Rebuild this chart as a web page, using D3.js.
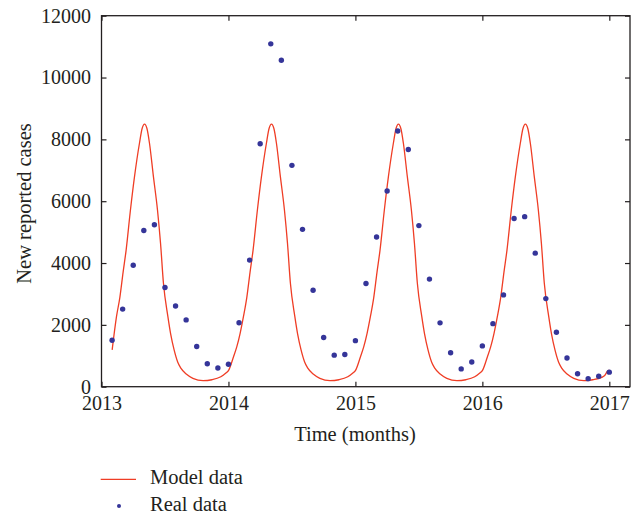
<!DOCTYPE html>
<html>
<head>
<meta charset="utf-8">
<script src="https://cdn.jsdelivr.net/npm/d3@7"></script>
<style>
  body { margin: 0; background: #fff; }
  text { font-family: "Liberation Serif", "DejaVu Serif", serif; fill: #231f20; }
</style>
</head>
<body>
<div id="chart"></div>
<script>
// monthly reported cases, Feb 2013 .. Jan 2017
const realMonth = [1, 2, 3, 4, 5, 6, 7, 8, 9, 10, 11, 12,
  13, 14, 15, 16, 17, 18, 19, 20, 21, 22, 23, 24,
  25, 26, 27, 28, 29, 30, 31, 32, 33, 34, 35, 36,
  37, 38, 39, 40, 41, 42, 43, 44, 45, 46, 47, 48]
const realCases = [1500, 2510, 3930, 5050, 5240, 3210, 2610, 2160, 1300, 740, 605, 725,
  2070, 4095, 7860, 11090, 10560, 7160, 5090, 3120, 1590, 1020, 1040, 1490,
  3340, 4840, 6330, 8270, 7670, 5210, 3480, 2065, 1100, 575, 800, 1320,
  2040, 2970, 5440, 5500, 4320, 2850, 1760, 930, 420, 260, 340, 470]

// model curve, sampled from the red line
const modelTime = [
  2013.084, 2013.118, 2013.145, 2013.17, 2013.194, 2013.228, 2013.26, 2013.299, 2013.32, 2013.339,
  2013.358, 2013.378, 2013.409, 2013.441, 2013.465, 2013.488, 2013.523, 2013.545, 2013.572, 2013.6,
  2013.625, 2013.67, 2013.72, 2013.8, 2013.87, 2013.94, 2013.98,
  2014.0, 2014.04, 2014.066, 2014.092, 2014.118, 2014.145, 2014.17, 2014.194, 2014.228, 2014.26,
  2014.299, 2014.32, 2014.339, 2014.358, 2014.378, 2014.409, 2014.441, 2014.465, 2014.488, 2014.523,
  2014.545, 2014.572, 2014.6, 2014.625, 2014.67, 2014.72, 2014.8, 2014.87, 2014.94, 2014.98,
  2015.0, 2015.04, 2015.066, 2015.092, 2015.118, 2015.145, 2015.17, 2015.194, 2015.228, 2015.26,
  2015.299, 2015.32, 2015.339, 2015.358, 2015.378, 2015.409, 2015.441, 2015.465, 2015.488, 2015.523,
  2015.545, 2015.572, 2015.6, 2015.625, 2015.67, 2015.72, 2015.8, 2015.87, 2015.94, 2015.98,
  2016.0, 2016.04, 2016.066, 2016.092, 2016.118, 2016.145, 2016.17, 2016.194, 2016.228, 2016.26,
  2016.299, 2016.32, 2016.339, 2016.358, 2016.378, 2016.409, 2016.441, 2016.465, 2016.488, 2016.523,
  2016.545, 2016.572, 2016.6, 2016.625, 2016.67, 2016.72, 2016.8, 2016.87, 2016.94, 2016.965,
  2016.985, 2017.0]
const modelCases = [
  1190, 2265, 2900, 3700, 4420, 5716, 6794, 7874, 8350, 8490,
  8350, 7874, 6794, 5716, 4640, 3345, 2265, 1700, 1190, 800,
  600, 400, 270, 195, 225, 320, 440,
  520, 970, 1294, 1727, 2265, 2900, 3700, 4420, 5716, 6794,
  7874, 8350, 8490, 8350, 7874, 6794, 5716, 4640, 3345, 2265,
  1700, 1190, 800, 600, 400, 270, 195, 225, 320, 440,
  520, 970, 1294, 1727, 2265, 2900, 3700, 4420, 5716, 6794,
  7874, 8350, 8490, 8350, 7874, 6794, 5716, 4640, 3345, 2265,
  1700, 1190, 800, 600, 400, 270, 195, 225, 320, 440,
  520, 970, 1294, 1727, 2265, 2900, 3700, 4420, 5716, 6794,
  7874, 8350, 8490, 8350, 7874, 6794, 5716, 4640, 3345, 2265,
  1700, 1190, 800, 600, 400, 270, 195, 225, 300, 370,
  500, 540]

const xTicks = [2013, 2014, 2015, 2016, 2017]
const yTicks = [0, 2000, 4000, 6000, 8000, 10000, 12000]

const ancho = 639
const alto = 515
const margen = { izquierdo: 101.5, derecho: 9, superior: 15.7, inferior: 128.3 }
const w = ancho - margen.izquierdo - margen.derecho
const h = alto - margen.superior - margen.inferior

const colorModelo = "#ef3d25"
const colorReal = "#353599"

const svg = d3.select("#chart").append("svg").attr("width", ancho).attr("height", alto)
const g = svg.append("g").attr("transform", `translate(${margen.izquierdo}, ${margen.superior})`)

const x = d3.scaleLinear().domain([2013, 2017.163]).range([0, w])
const y = d3.scaleLinear().domain([0, 12000]).range([h, 0])

// axes (ticks point inward, like the original)
const ejeX = g.append("g").attr("transform", `translate(0, ${h})`)
  .call(d3.axisBottom(x).tickValues(xTicks).tickFormat(d3.format("d")).tickSizeInner(-5).tickSizeOuter(0).tickPadding(9))
const ejeXTop = g.append("g")
  .call(d3.axisTop(x).tickValues(xTicks).tickFormat("").tickSizeInner(-5).tickSizeOuter(0))
const ejeY = g.append("g")
  .call(d3.axisLeft(y).tickValues(yTicks).tickFormat(d3.format("d")).tickSizeInner(-5).tickSizeOuter(0).tickPadding(10.5))
const ejeYRight = g.append("g").attr("transform", `translate(${w}, 0)`)
  .call(d3.axisRight(y).tickValues(yTicks).tickFormat("").tickSizeInner(-5).tickSizeOuter(0))

;[ejeX, ejeXTop, ejeY, ejeYRight].forEach(e => {
  e.select(".domain").remove()
  e.selectAll(".tick line").attr("stroke", "#231f20").attr("stroke-width", 1.2)
  e.selectAll("text").style("font-size", "20px").attr("fill", "#231f20")
})

g.append("rect").attr("width", w).attr("height", h)
  .attr("fill", "none").attr("stroke", "#231f20").attr("stroke-width", 1.3)

// model line
const modelo = modelTime.map((t, i) => ({ t: t, v: modelCases[i] }))
g.append("path").datum(modelo)
  .attr("fill", "none").attr("stroke", colorModelo).attr("stroke-width", 1.3)
  .attr("d", d3.line().x(d => x(d.t)).y(d => y(d.v)).curve(d3.curveMonotoneX))

// real data points
g.selectAll("circle.real").data(realCases).enter().append("circle")
  .attr("class", "real")
  .attr("cx", (d, i) => x(2013 + realMonth[i] / 12))
  .attr("cy", d => y(d))
  .attr("r", 2.7)
  .attr("fill", colorReal)

// axis titles
svg.append("text").attr("x", 355).attr("y", 441)
  .attr("text-anchor", "middle").style("font-size", "20.5px").text("Time (months)")
svg.append("text").attr("transform", "translate(31, 203.5) rotate(-90)")
  .attr("text-anchor", "middle").style("font-size", "20.5px").text("New reported cases")

// legend
const leyenda = svg.append("g")
leyenda.append("line").attr("x1", 100.7).attr("x2", 136).attr("y1", 479.3).attr("y2", 479.3)
  .attr("stroke", colorModelo).attr("stroke-width", 1.3)
leyenda.append("text").attr("x", 150).attr("y", 484).style("font-size", "20.5px").text("Model data")
leyenda.append("circle").attr("cx", 119).attr("cy", 506).attr("r", 2).attr("fill", colorReal)
leyenda.append("text").attr("x", 150).attr("y", 510.7).style("font-size", "20.5px").text("Real data")
</script>
</body>
</html>
